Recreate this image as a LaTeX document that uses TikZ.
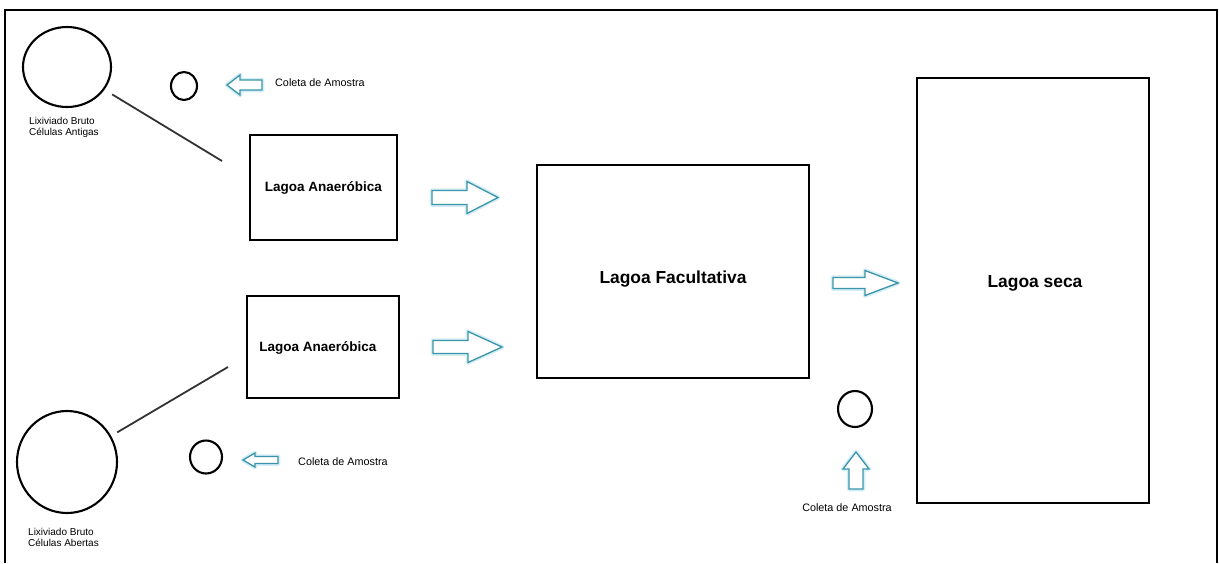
\documentclass[tikz,border=0pt]{standalone}
\usepackage{fontspec}
\setmainfont{Liberation Sans}
\usetikzlibrary{calc,shapes.geometric}
\definecolor{arrowc}{RGB}{58,148,170}
\definecolor{glowc}{RGB}{212,238,246}
\newcommand\hblk[6]{% tail x, neck x, tip x, centre y, shaft half, head half
  \draw[glow] (#1,#4-#5) -- (#2,#4-#5) -- (#2,#4-#6) -- (#3,#4) -- (#2,#4+#6) -- (#2,#4+#5) -- (#1,#4+#5) -- cycle;
  \draw[blk] (#1,#4-#5) -- (#2,#4-#5) -- (#2,#4-#6) -- (#3,#4) -- (#2,#4+#6) -- (#2,#4+#5) -- (#1,#4+#5) -- cycle;}
\newcommand\vblk[6]{% tail y, neck y, tip y, centre x, shaft half, head half
  \draw[glow] (#4-#5,#1) -- (#4-#5,#2) -- (#4-#6,#2) -- (#4,#3) -- (#4+#6,#2) -- (#4+#5,#2) -- (#4+#5,#1) -- cycle;
  \draw[blk] (#4-#5,#1) -- (#4-#5,#2) -- (#4-#6,#2) -- (#4,#3) -- (#4+#6,#2) -- (#4+#5,#2) -- (#4+#5,#1) -- cycle;}
\begin{document}
\begin{tikzpicture}[x=1pt,y=-1pt,
  pond/.style={draw=black, line width=2.6pt, rectangle, inner sep=0pt},
  ring/.style={draw=black, line width=2.1pt, ellipse, inner sep=0pt},
  link/.style={draw=black!80, line width=1.8pt},
  frameline/.style={draw=black, line width=1.8pt},
  blk/.style={draw=arrowc, line width=1.3pt, fill=white, line join=miter},
  glow/.style={draw=glowc, line width=4.5pt, line join=round},
  pondtext/.style={font=\fontsize{13.5}{16}\selectfont\bfseries},
  bigtext/.style={font=\fontsize{17.4}{20}\selectfont\bfseries},
  smalltext/.style={font=\fontsize{10.8}{12}\selectfont, inner sep=0pt},
  labeltext/.style={font=\fontsize{10}{10.5}\selectfont, align=left, inner sep=0pt}]
\useasboundingbox (0,0) rectangle (1219,563);
\fill[white] (0,0) rectangle (1219,563);

% frame
\coordinate (fbl) at (5,563);
\coordinate (ftl) at (5,10);
\coordinate (ftr) at (1217,10);
\coordinate (fbr) at (1217,563);
\draw[frameline] (fbl) -- (ftl) -- (ftr) -- (fbr);

% ponds
\node[pond, minimum width=147pt, minimum height=105pt, pondtext] (an1) at (323.5,187.5) {Lagoa Anaeróbica};
\node[pond, minimum width=152pt, minimum height=102pt] (an2) at (323,347) {};
\node[pondtext] (an2t) at (318,348) {Lagoa Anaeróbica};
\node[pond, minimum width=272pt, minimum height=213pt] (fac) at (673,271.5) {};
\node[bigtext] (fact) at (673,279) {Lagoa Facultativa};
\node[pond, minimum width=232pt, minimum height=425pt] (seca) at (1033,290.5) {};
\node[bigtext] (secat) at (1035,283) {Lagoa seca};

% circles
\node[ring, minimum width=88pt, minimum height=80pt] (raw1) at (67,67) {};
\node[ring, minimum width=100pt, minimum height=102pt] (raw2) at (67,462) {};
\node[ring, minimum width=26pt, minimum height=28pt] (s1) at (184,86) {};
\node[ring, minimum width=32pt, minimum height=33pt] (s2) at (206,457) {};
\node[ring, minimum width=34pt, minimum height=36pt] (s3) at (855,409) {};

% labels
\node[labeltext, anchor=west] (lab1) at (29,127.5) {Lixiviado Bruto\\Células Antigas};
\node[labeltext, anchor=west] (lab2) at (28,537.5) {Lixiviado Bruto\\Células Abertas};

% connectors
\coordinate (e1) at (222,161);
\coordinate (e2) at (228,367);
\draw[link, shorten <=9pt] (raw1) -- (e1);
\draw[link, shorten <=7pt] (raw2) -- (e2);

% block arrows
\hblk{432}{467}{498}{197.5}{7}{16}
\hblk{433}{468}{502}{347}{6.5}{15.5}
\hblk{833}{865}{898}{283}{5.5}{12.5}
\hblk{262}{240}{227}{85}{5}{10}
\hblk{278}{255}{243}{460}{3.5}{7}
\vblk{489}{469}{452}{856}{7}{13}

% sample texts
\node[smalltext, anchor=west] (c1) at (275,83) {Coleta de Amostra};
\node[smalltext, anchor=west] (c2) at (298,462) {Coleta de Amostra};
\node[smalltext] (c3) at (847,508) {Coleta de Amostra};
\end{tikzpicture}
\end{document}
